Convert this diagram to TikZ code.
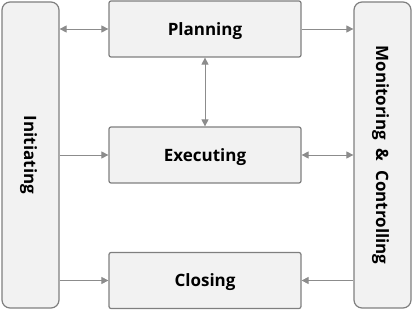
\documentclass[tikz,border=0pt]{standalone}
\usepackage{fontspec}
\setmainfont{Open Sans}
\usetikzlibrary{arrows.meta}
\definecolor{boxfill}{HTML}{F2F2F2}
\definecolor{boxline}{HTML}{7F7F7F}
\definecolor{linkgray}{HTML}{8C8C8C}
\begin{document}
\begin{tikzpicture}[x=1pt, y=-1pt,
        block/.style={rectangle, draw=boxline, line width=1.2pt, rounded corners=2pt, fill=boxfill, minimum width=192pt, minimum height=56pt, text depth=0pt, font=\fontsize{17}{20}\selectfont\bfseries},
        side/.style={rectangle, draw=boxline, line width=1.2pt, rounded corners=8pt, fill=boxfill, minimum width=306pt, minimum height=57pt, text depth=0pt, rotate=-90, font=\fontsize{17}{20}\selectfont\bfseries},
        link/.style={draw=linkgray, line width=0.8pt, -{Triangle[length=7pt, width=7pt]}},
        twolink/.style={link, {Triangle[length=7pt, width=7pt]}-{Triangle[length=7pt, width=7pt]}}
    ]
        \useasboundingbox (0,0) rectangle (413,310);
        \node[side] (init) at (30.5,155) {Initiating};
        \node[side] (moni) at (382.5,155) {Monitoring\ \ \&\ \ Controlling};
        \node[block] (plan) at (205,29) {Planning};
        \node[block] (exec) at (205,155) {Executing};
        \node[block] (clos) at (205,280.5) {Closing};

        \draw[twolink] (init.north |- plan.west) -- (plan.west);
        \draw[link] (plan.east) -- (moni.south |- plan.east);
        \draw[twolink] (plan.south) -- (exec.north);
        \draw[link] (init.north |- exec.west) -- (exec.west);
        \draw[twolink] (exec.east) -- (moni.south |- exec.east);
        \draw[link] (init.north |- clos.west) -- (clos.west);
        \draw[link] (moni.south |- clos.east) -- (clos.east);
    \end{tikzpicture}
\end{document}
